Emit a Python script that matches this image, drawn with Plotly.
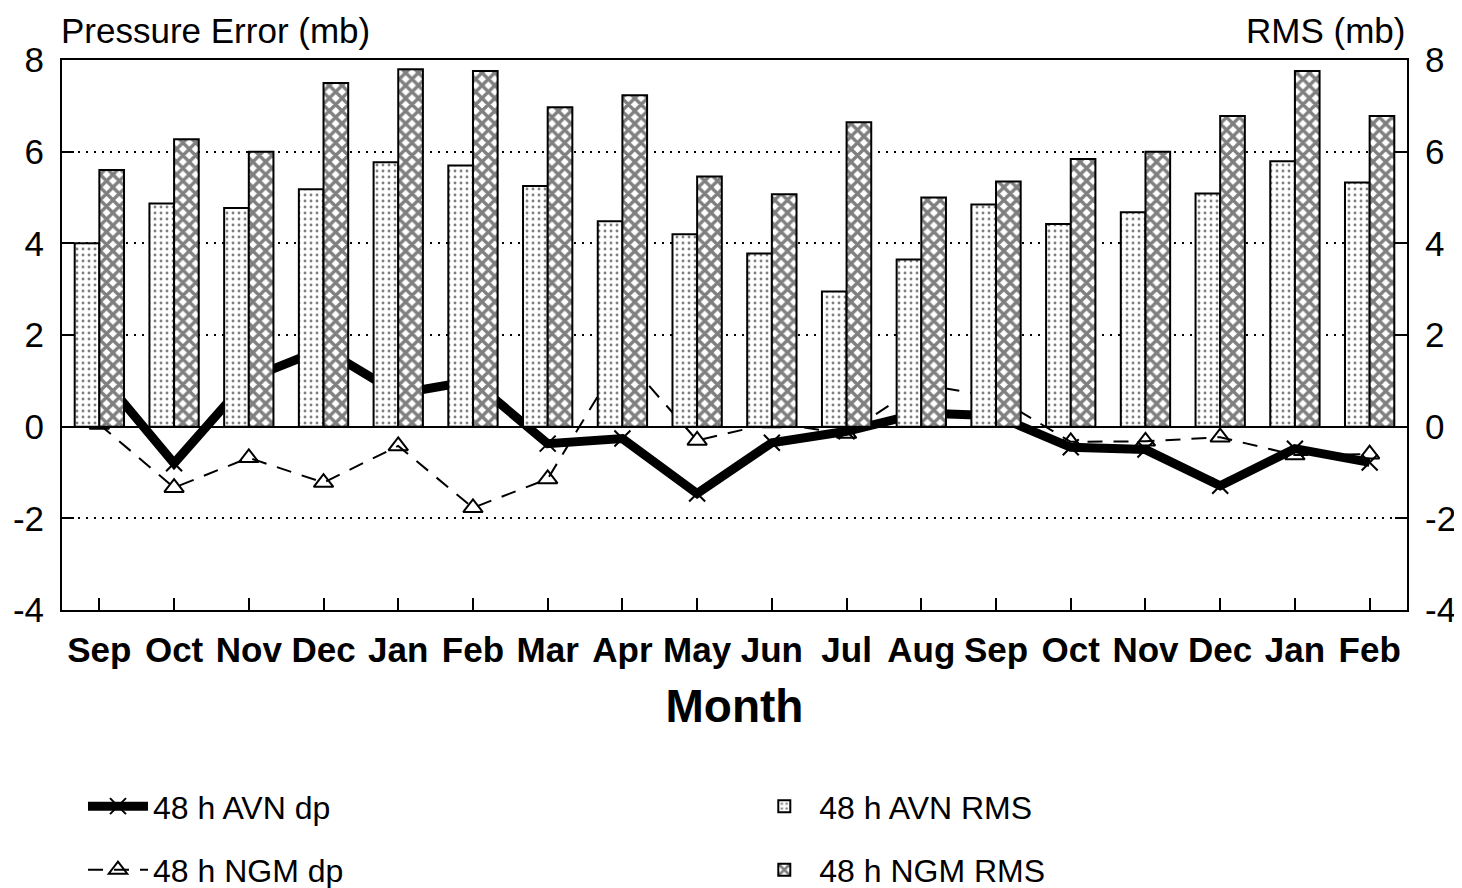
import plotly.graph_objects as go

months = ["Sep", "Oct", "Nov", "Dec", "Jan", "Feb", "Mar", "Apr", "May",
          "Jun", "Jul", "Aug", "Sep", "Oct", "Nov", "Dec", "Jan", "Feb"]
avn_rms = [4.0, 4.87, 4.77, 5.18, 5.77, 5.70, 5.25, 4.48, 4.2,
           3.78, 2.95, 3.65, 4.85, 4.42, 4.68, 5.09, 5.79, 5.33]
ngm_rms = [5.6, 6.27, 6.0, 7.5, 7.8, 7.76, 6.97, 7.23, 5.46,
           5.07, 6.64, 5.0, 5.35, 5.84, 6.0, 6.78, 7.76, 6.78]
avn_dp = [1.15, -0.8, 1.05, 1.7, 0.72, 1.0, -0.37, -0.26, -1.46,
          -0.35, -0.1, 0.3, 0.24, -0.45, -0.5, -1.29, -0.48, -0.78]
ngm_dp = [0.05, -1.33, -0.68, -1.22, -0.42, -1.77, -1.14, 1.55, -0.3,
          0.08, -0.15, 0.93, 0.64, -0.33, -0.32, -0.23, -0.62, -0.6]
y_ticks = [-4, -2, 0, 2, 4, 6, 8]
y_ticktext = ["-4", "-2", "0", "2", "4", "6", "8"]

xpos = list(range(len(months)))
FONT = "Liberation Sans, Arial, sans-serif"

fig = go.Figure()

fig.add_trace(go.Bar(
    x=xpos, y=avn_rms, name="48 h AVN RMS", yaxis="y2",
    legend="legend2", legendgroup="a",
    marker=dict(color="white", line=dict(color="black", width=2),
                pattern=dict(shape=".", fgcolor="black", bgcolor="white",
                             size=6, solidity=0.18, fillmode="overlay")),
))
fig.add_trace(go.Bar(
    x=xpos, y=ngm_rms, name="48 h NGM RMS", yaxis="y2",
    legend="legend2", legendgroup="b",
    marker=dict(color="white", line=dict(color="black", width=2),
                pattern=dict(shape="x", fgcolor="black", bgcolor="white",
                             size=9, solidity=0.6, fillmode="overlay")),
))
fig.add_trace(go.Scatter(
    x=xpos, y=avn_dp, name="48 h AVN dp", mode="lines+markers",
    legend="legend", legendgroup="c",
    line=dict(color="black", width=9),
    marker=dict(symbol="x-thin", size=16, color="black",
                line=dict(color="black", width=2)),
))
fig.add_trace(go.Scatter(
    x=xpos, y=ngm_dp, name="48 h NGM dp", mode="lines+markers",
    legend="legend", legendgroup="d",
    line=dict(color="black", width=2, dash="15px,11px"),
    marker=dict(symbol="triangle-up-open", size=17, color="black",
                line=dict(color="black", width=2)),
))

axis_common = dict(range=[-4, 8], tickvals=y_ticks, ticktext=y_ticktext,
                   ticks="inside", ticklen=12, tickwidth=2, tickcolor="black",
                   automargin=False, ticklabelstandoff=9,
                   tickfont=dict(family=FONT, size=35, color="black"))

legend_font = dict(family=FONT, size=32, color="black")

# the page body adds an 8px offset; the figure is sized to fill the rest
fig.update_layout(
    width=1454, height=880,
    margin=dict(l=54, r=55, t=52, b=278, autoexpand=False),
    paper_bgcolor="white", plot_bgcolor="white",
    barmode="group", bargap=0.34, bargroupgap=0,
    font=dict(family=FONT, color="black"),
    xaxis=dict(range=[-0.5, len(months) - 0.5], tickvals=xpos, ticktext=months,
               ticks="inside", ticklen=12, tickwidth=2, tickcolor="black",
               showline=True, linecolor="black", linewidth=2, mirror=True,
               showgrid=False, zeroline=False, automargin=False,
               tickangle=0, ticklabelstandoff=8,
               tickfont=dict(family=FONT, size=35, color="black", weight="bold"),
               title=dict(text="Month", standoff=22,
                          font=dict(family=FONT, size=46, color="black", weight="bold"))),
    yaxis=dict(**axis_common, showline=True, linecolor="black", linewidth=2,
               mirror=True, showgrid=True, gridcolor="black", gridwidth=2,
               griddash="2px,6px", zeroline=True, zerolinecolor="black",
               zerolinewidth=2),
    yaxis2=dict(**axis_common, overlaying="y", side="right", showgrid=False,
                zeroline=False, showline=True, linecolor="black", linewidth=2),
    legend=dict(x=0.0156, y=-0.307, xanchor="left", yanchor="top",
                traceorder="grouped", tracegroupgap=19, itemwidth=60,
                font=legend_font, bgcolor="rgba(0,0,0,0)"),
    legend2=dict(x=0.511, y=-0.307, xanchor="left", yanchor="top",
                 traceorder="grouped", tracegroupgap=19, itemwidth=60,
                 font=legend_font, bgcolor="rgba(0,0,0,0)"),
    annotations=[
        dict(text="Pressure Error (mb)", xref="paper", yref="paper",
             x=-0.002, y=1.0, yshift=30, xanchor="left", yanchor="middle",
             showarrow=False, font=dict(family=FONT, size=35, color="black")),
        dict(text="RMS (mb)", xref="paper", yref="paper",
             x=1.0, y=1.0, yshift=30, xanchor="right", yanchor="middle",
             showarrow=False, font=dict(family=FONT, size=35, color="black")),
    ],
)

fig.write_html("out.html")
